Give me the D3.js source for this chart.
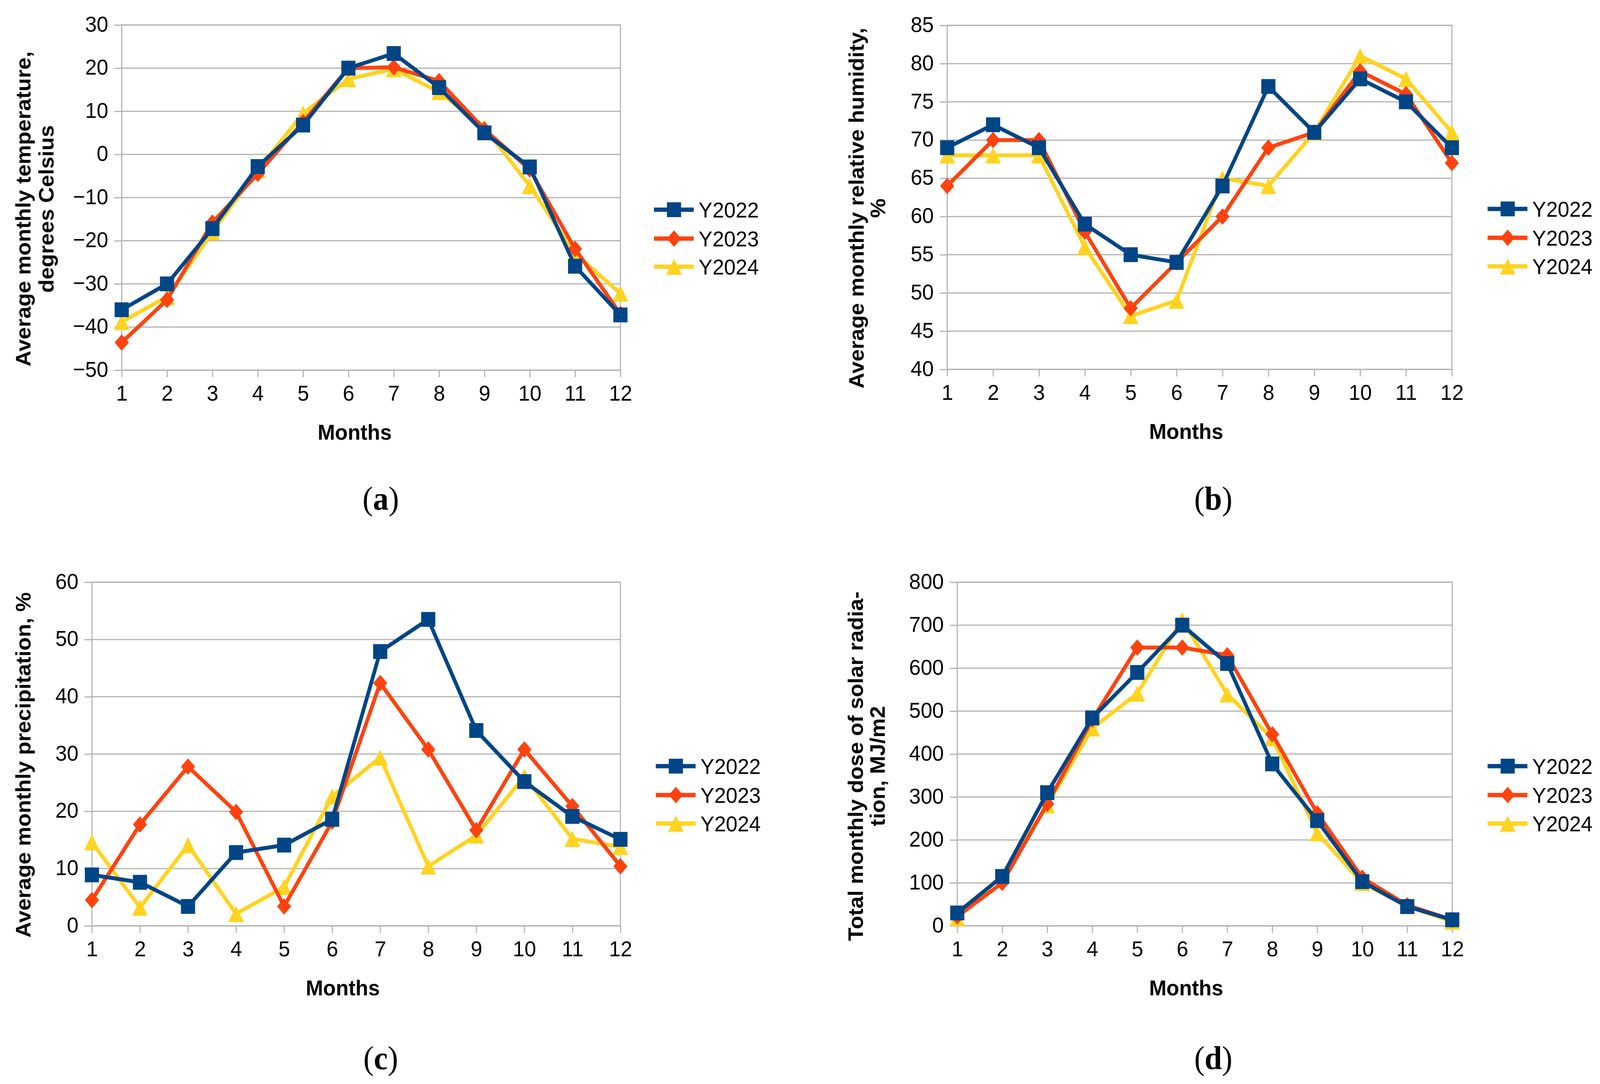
<!DOCTYPE html>
<html lang="en">
<head>
<meta charset="UTF-8">
<title>Monthly climate, 2022-2024</title>
<script src="https://cdn.jsdelivr.net/npm/d3@7"></script>
<style>
    html, body {
        margin: 0;
        padding: 0;
        width: 100%;
        height: 100%;
        overflow: hidden;
        background: #fff;
    }
    #chart, #chart svg {
        display: block;
        width: 100%;
        height: 100%;
    }
    text {
        font-family: 'Liberation Sans', Arial, sans-serif;
        fill: #000;
    }
</style>
</head>
<body>
<div id="chart"></div>
<script>

// ---- data ----
var months = [1, 2, 3, 4, 5, 6, 7, 8, 9, 10, 11, 12];
var seriesNames = ["Y2022", "Y2023", "Y2024"];

var tempY2022 = [-36, -30, -17.2, -2.8, 6.8, 20, 23.4, 15.5, 5, -2.9, -25.9, -37.2];
var tempY2023 = [-43.6, -33.7, -15.8, -4.5, 7.5, 20, 20.2, 17, 5.8, -3.5, -21.9, -37];
var tempY2024 = [-38.8, -33, -18, -3.6, 9.5, 17.5, 19.8, 14.5, 6.3, -7.3, -23, -32.2];

var humY2022 = [69, 72, 69, 59, 55, 54, 64, 77, 71, 78, 75, 69];
var humY2023 = [64, 70, 70, 58, 48, 54, 60, 69, 71, 79, 76, 67];
var humY2024 = [68, 68, 68, 56, 47, 49, 65, 64, 71, 81, 78, 71];

var precY2022 = [8.9, 7.6, 3.4, 12.8, 14.1, 18.6, 47.9, 53.5, 34.1, 25.2, 19.1, 15.1];
var precY2023 = [4.5, 17.7, 27.8, 19.9, 3.4, 18.2, 42.4, 30.8, 16.7, 30.8, 20.9, 10.4];
var precY2024 = [14.6, 3.2, 14.1, 2.1, 6.8, 22.6, 29.4, 10.4, 15.8, 26.1, 15.2, 13.8];

var solarY2022 = [30, 115, 310, 484, 590, 700, 611, 377, 245, 103, 45, 14];
var solarY2023 = [22, 100, 284, 480, 648, 648, 630, 446, 262, 112, 48, 14];
var solarY2024 = [18, 118, 281, 460, 541, 712, 539, 437, 216, 100, 46, 10];

var tempTicks = [-50, -40, -30, -20, -10, 0, 10, 20, 30];
var humTicks = [40, 45, 50, 55, 60, 65, 70, 75, 80, 85];
var precTicks = [0, 10, 20, 30, 40, 50, 60];
var solarTicks = [0, 100, 200, 300, 400, 500, 600, 700, 800];

// ---- look ----
var width = 4299, height = 2776;
var colors = ["#004586", "#ff420e", "#ffd320"];
var gridColor = "#b3b3b3";
var fontSize = 56;

// marker shapes, centred on 0,0
var markerPaths = [
    "M-19,-19H19V19H-19Z",
    "M0,-21L19,0L0,21L-19,0Z",
    "M0,-20L21,21L-21,21Z"
];

var panels = [
    { data: [tempY2022, tempY2023, tempY2024], ticks: tempTicks,
      left: 327, right: 1667, top: 64, bottom: 948,
      title: ["Average monthly temperature,", "degrees Celsius"], titleX: [82, 144], titleY: 535,
      monthsX: 953, legendX: 1757, legendY: [537, 611, 683],
      caption: "a", captionX: 1023, captionY: 1305 },
    { data: [humY2022, humY2023, humY2024], ticks: humTicks,
      left: 2545, right: 3901, top: 65, bottom: 946,
      title: ["Average monthly relative humidity,", "%"], titleX: [2321, 2378], titleY: 533,
      monthsX: 3187, legendX: 3997, legendY: [535, 609, 682],
      caption: "b", captionX: 3260, captionY: 1305 },
    { data: [precY2022, precY2023, precY2024], ticks: precTicks,
      left: 247, right: 1667, top: 1491, bottom: 2371,
      title: ["Average monthly precipitation, %"], titleX: [82], titleY: 1959,
      monthsX: 921, legendX: 1762, legendY: [1962, 2036, 2109],
      caption: "c", captionX: 1023, captionY: 2738 },
    { data: [solarY2022, solarY2023, solarY2024], ticks: solarTicks,
      left: 2572, right: 3902, top: 1491, bottom: 2371,
      title: ["Total monthly dose of solar radia-", "tion, MJ/m2"], titleX: [2318, 2377], titleY: 1962,
      monthsX: 3187, legendX: 3997, legendY: [1962, 2036, 2109],
      caption: "d", captionX: 3260, captionY: 2738 }
];

// the svg scales with the window so nothing falls off the right edge
var svg = d3.select("#chart")
    .append("svg")
    .attr("viewBox", "0 0 " + width + " " + height)
    .attr("preserveAspectRatio", "none");

svg.append("rect")
    .attr("width", width)
    .attr("height", height)
    .attr("fill", "#fff");

function drawPanel(p) {
    var g = svg.append("g");

    var x = d3.scaleLinear()
        .domain([1, 12])
        .range([p.left, p.right]);

    var y = d3.scaleLinear()
        .domain([p.ticks[0], p.ticks[p.ticks.length - 1]])
        .range([p.bottom, p.top]);

    // horizontal grid
    g.append("g")
        .selectAll("line")
        .data(p.ticks)
        .enter()
        .append("line")
        .attr("x1", p.left)
        .attr("x2", p.right)
        .attr("y1", function(d) { return y(d); })
        .attr("y2", function(d) { return y(d); })
        .attr("stroke", gridColor)
        .attr("stroke-width", 3);

    // frame
    g.append("rect")
        .attr("x", p.left)
        .attr("y", p.top)
        .attr("width", p.right - p.left)
        .attr("height", p.bottom - p.top)
        .attr("fill", "none")
        .attr("stroke", gridColor)
        .attr("stroke-width", 3);

    var xAxis = d3.axisBottom(x)
        .tickValues(months)
        .tickFormat(d3.format("d"))
        .tickSize(18)
        .tickPadding(20);

    var yAxis = d3.axisLeft(y)
        .tickValues(p.ticks)
        .tickSize(20)
        .tickPadding(16);

    var gx = g.append("g")
        .attr("transform", "translate(0," + p.bottom + ")")
        .call(xAxis);

    var gy = g.append("g")
        .attr("transform", "translate(" + p.left + ",0)")
        .call(yAxis);

    [gx, gy].forEach(function(ax) {
        ax.select(".domain").remove();
        ax.selectAll(".tick line")
            .attr("stroke", gridColor)
            .attr("stroke-width", 3);
        ax.selectAll(".tick text")
            .attr("fill", "#000")
            .style("font-family", "'Liberation Sans', Arial, sans-serif")
            .style("font-size", fontSize + "px");
    });
    gy.selectAll(".tick text").attr("dy", "0.29em");

    // series, last one drawn first so Y2022 sits on top
    var line = d3.line()
        .x(function(d, i) { return x(months[i]); })
        .y(function(d) { return y(d); });

    for (var s = p.data.length - 1; s >= 0; s--) {
        var sg = g.append("g");
        sg.append("path")
            .datum(p.data[s])
            .attr("d", line)
            .attr("fill", "none")
            .attr("stroke", colors[s])
            .attr("stroke-width", 10)
            .attr("stroke-linejoin", "round");
        sg.selectAll(".marker")
            .data(p.data[s])
            .enter()
            .append("path")
            .attr("class", "marker")
            .attr("d", markerPaths[s])
            .attr("fill", colors[s])
            .attr("transform", function(d, i) {
                return "translate(" + x(months[i]) + "," + y(d) + ")";
            });
    }

    // axis titles
    g.append("text")
        .attr("x", p.monthsX)
        .attr("y", p.bottom + 178)
        .attr("text-anchor", "middle")
        .style("font-size", fontSize + "px")
        .style("font-weight", "bold")
        .text("Months");

    p.title.forEach(function(t, i) {
        g.append("text")
            .attr("transform", "translate(" + p.titleX[i] + "," + p.titleY + ") rotate(-90)")
            .attr("text-anchor", "middle")
            .style("font-size", fontSize + "px")
            .style("font-weight", "bold")
            .text(t);
    });

    // legend
    seriesNames.forEach(function(name, i) {
        var ly = p.legendY[i];
        var lg = g.append("g")
            .attr("transform", "translate(" + p.legendX + "," + ly + ")");
        lg.append("line")
            .attr("x1", 0)
            .attr("x2", 107)
            .attr("stroke", colors[i])
            .attr("stroke-width", 11);
        lg.append("path")
            .attr("d", markerPaths[i])
            .attr("fill", colors[i])
            .attr("transform", "translate(54,0)");
        lg.append("text")
            .attr("x", 120)
            .attr("y", 20)
            .style("font-size", fontSize + "px")
            .text(name);
    });

    // sub-figure caption
    var cap = g.append("text")
        .attr("x", p.captionX)
        .attr("y", p.captionY)
        .attr("text-anchor", "middle")
        .style("font-family", "'Liberation Serif', 'Times New Roman', serif")
        .style("font-size", "84px");
    cap.append("tspan").text("(");
    cap.append("tspan").style("font-weight", "bold").text(p.caption);
    cap.append("tspan").text(")");
}

panels.forEach(drawPanel);

</script>
</body>
</html>
